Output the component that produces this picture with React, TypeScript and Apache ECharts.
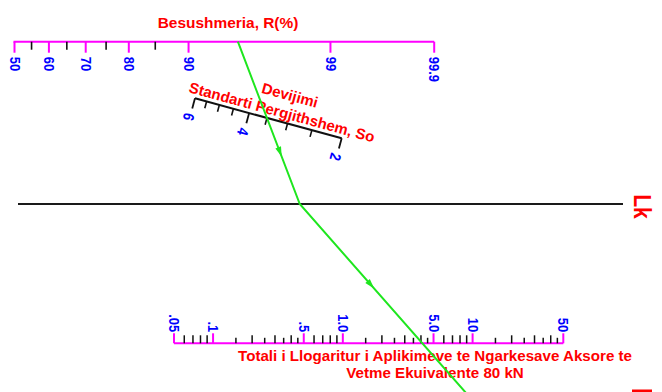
import React, { useEffect, useRef } from 'react';
import * as echarts from 'echarts';

// ---- Data ----
const rMajor = [50, 60, 70, 80, 90, 99, 99.9];
const rMajorLabels = ['50', '60', '70', '80', '90', '99', '99.9'];
const rMinor = [55, 65, 75, 85];

const soMajor = [6, 4, 2];
const soMajorLabels = ['6', '4', '2'];
const soMinor = [5.5, 5, 4.5, 3.5, 3, 2.5];

const esalMajor = [0.05, 0.1, 0.5, 1, 5, 10, 50];
const esalMajorLabels = ['.05', '.1', '.5', '1.0', '5.0', '10', '50'];
const esalMinor = [0.06, 0.07, 0.08, 0.09, 0.2, 0.3, 0.4, 0.6, 0.7, 0.8, 0.9, 2, 3, 4, 6, 7, 8, 9, 20, 30, 40];
const esalHalf = [0.15, 0.25, 0.35, 0.45, 1.5, 2.5, 3.5, 4.5, 15, 25, 35, 45];

const solR = 95;
const solSo = 3.5;
const solEsal = 4.1;

// ---- Styles / layout ----
const MAGENTA = '#ff00ff';
const BLUE = '#0000ff';
const RED = '#ff0000';
const GREEN = '#1ee61e';
const BLACK = '#111111';
const FONT = '"Liberation Sans", Arial, sans-serif';

const R_LEFT = 14.5;
const R_WIDTH = 419.7;
const R_Y = 41.7;
const E_LEFT = 174;
const E_WIDTH = 389.3;
const E_Y = 343.3;
const SO_X0 = 195;
const SO_Y0 = 98.3;
const SO_LEN = 152;
const SO_ANGLE = 15.25 * Math.PI / 180;
const TL_Y = 204;
const LABEL_STRETCH = 1.18;

function probit(p: number): number {
  const a = [-3.969683028665376e1, 2.209460984245205e2, -2.759285104469687e2, 1.38357751867269e2, -3.066479806614716e1, 2.506628277459239];
  const b = [-5.447609879822406e1, 1.615858368580409e2, -1.556989798598866e2, 6.680131188771972e1, -1.328068155288572e1];
  const c = [-7.784894002430293e-3, -3.223964580411365e-1, -2.400758277161838, -2.549732539343734, 4.374664141464968, 2.938163982698783];
  const d = [7.784695709041462e-3, 3.224671290700398e-1, 2.445134137142996, 3.754408661907416];
  const pl = 0.02425;
  if (p < pl) {
    const q = Math.sqrt(-2 * Math.log(p));
    return (((((c[0] * q + c[1]) * q + c[2]) * q + c[3]) * q + c[4]) * q + c[5]) / ((((d[0] * q + d[1]) * q + d[2]) * q + d[3]) * q + 1);
  }
  if (p <= 1 - pl) {
    const q = p - 0.5;
    const r = q * q;
    return ((((((a[0] * r + a[1]) * r + a[2]) * r + a[3]) * r + a[4]) * r + a[5]) * q) / (((((b[0] * r + b[1]) * r + b[2]) * r + b[3]) * r + b[4]) * r + 1);
  }
  const q = Math.sqrt(-2 * Math.log(1 - p));
  return -(((((c[0] * q + c[1]) * q + c[2]) * q + c[3]) * q + c[4]) * q + c[5]) / ((((d[0] * q + d[1]) * q + d[2]) * q + d[3]) * q + 1);
}
const z = (r: number) => probit(r / 100);

const labelFont = `bold 13px ${FONT}`;
const titleFont = `bold 15px ${FONT}`;

export default function App() {
  const ref = useRef<HTMLDivElement>(null);
  useEffect(() => {
    if (!ref.current) return;
    const chart = echarts.init(ref.current, undefined, { renderer: 'svg' });
    const zMax = z(rMajor[rMajor.length - 1]);

    const baseGraphic: any[] = [
      { id: 'tl', type: 'line', z: 5, shape: { x1: 18, y1: TL_Y, x2: 623, y2: TL_Y }, style: { stroke: '#1a1a1a', lineWidth: 2 } },
      { id: 't1', type: 'text', z: 5, x: 228, y: 22.5, scaleX: 1.03, style: { text: 'Besushmeria, R(%)', fill: RED, font: titleFont, align: 'center', verticalAlign: 'middle' } },
      { id: 't2', type: 'text', z: 5, x: 290, y: 95, rotation: -SO_ANGLE, style: { text: 'Devijimi', fill: RED, font: titleFont, align: 'center', verticalAlign: 'middle' } },
      { id: 't3', type: 'text', z: 5, x: 282, y: 112, rotation: -SO_ANGLE, style: { text: 'Standarti Pergjithshem, So', fill: RED, font: titleFont, align: 'center', verticalAlign: 'middle' } },
      { id: 't4', type: 'text', z: 5, x: 435, y: 356, scaleX: 1.01, style: { text: 'Totali i Llogaritur i Aplikimeve te Ngarkesave Aksore te', fill: RED, font: titleFont, align: 'center', verticalAlign: 'middle' } },
      { id: 't5', type: 'text', z: 5, x: 435, y: 373, scaleX: 1.01, style: { text: 'Vetme Ekuivalente 80 kN', fill: RED, font: titleFont, align: 'center', verticalAlign: 'middle' } },
      { id: 't6', type: 'text', z: 5, x: 642.5, y: 206.5, rotation: -Math.PI / 2, scaleY: 1.15, style: { text: 'Lk', fill: RED, font: `bold 21px ${FONT}`, align: 'center', verticalAlign: 'middle' } },
      { id: 'frag', type: 'rect', z: 5, shape: { x: 632, y: 389.5, width: 20, height: 3 }, style: { fill: RED } },
    ];

    const option: any = {
      animation: false,
      backgroundColor: '#ffffff',
      grid: [
        { left: R_LEFT, top: R_Y, width: R_WIDTH, height: 20, show: false },
        { left: E_LEFT, top: E_Y - 20, width: E_WIDTH, height: 20, show: false },
        { left: 0, top: 0, width: SO_LEN, height: 10, show: false },
      ],
      xAxis: [
        { gridIndex: 0, type: 'value', min: z(rMajor[0]), max: zMax, show: false },
        { gridIndex: 1, type: 'log', logBase: 10, min: esalMajor[0], max: esalMajor[esalMajor.length - 1], show: false },
        { gridIndex: 2, type: 'log', logBase: 10, min: soMajor[soMajor.length - 1], max: soMajor[0], inverse: true, show: false },
      ],
      yAxis: [
        { gridIndex: 0, type: 'value', min: 0, max: 1, show: false },
        { gridIndex: 1, type: 'value', min: 0, max: 1, show: false },
        { gridIndex: 2, type: 'value', min: 0, max: 1, show: false },
      ],
      series: [
        {
          type: 'custom', xAxisIndex: 0, yAxisIndex: 0, clip: false, z: 3,
          data: [[z(rMajor[0]), 0, zMax]],
          renderItem: (_p: any, api: any) => {
            const a = api.coord([api.value(0), 1]);
            const b = api.coord([api.value(2), 1]);
            return { type: 'line', shape: { x1: a[0] - 1, y1: a[1], x2: b[0], y2: b[1] }, style: { stroke: MAGENTA, lineWidth: 2 } };
          },
        },
        {
          type: 'custom', xAxisIndex: 0, yAxisIndex: 0, clip: false, z: 3,
          data: rMajor.map((r, i) => [z(r), 1, i]),
          renderItem: (_p: any, api: any) => {
            const p = api.coord([api.value(0), 1]);
            const i = api.value(2);
            return {
              type: 'group',
              children: [
                { type: 'line', shape: { x1: p[0], y1: p[1], x2: p[0], y2: p[1] + 11 }, style: { stroke: MAGENTA, lineWidth: 2 } },
                { type: 'text', x: p[0] + 0.5, y: p[1] + 15, rotation: -Math.PI / 2, scaleY: LABEL_STRETCH, style: { text: rMajorLabels[i], fill: BLUE, font: labelFont, align: 'left', verticalAlign: 'middle' } },
              ],
            };
          },
        },
        {
          type: 'custom', xAxisIndex: 0, yAxisIndex: 0, clip: false, z: 3,
          data: rMinor.map((r) => [z(r), 1]),
          renderItem: (_p: any, api: any) => {
            const p = api.coord([api.value(0), 1]);
            return { type: 'line', shape: { x1: p[0], y1: p[1], x2: p[0], y2: p[1] + 8 }, style: { stroke: BLACK, lineWidth: 1.6 } };
          },
        },
        {
          type: 'custom', xAxisIndex: 1, yAxisIndex: 1, clip: false, z: 3,
          data: [[esalMajor[0], 0, esalMajor[esalMajor.length - 1]]],
          renderItem: (_p: any, api: any) => {
            const a = api.coord([api.value(0), 0]);
            const b = api.coord([api.value(2), 0]);
            return { type: 'line', shape: { x1: a[0], y1: a[1], x2: b[0], y2: b[1] }, style: { stroke: MAGENTA, lineWidth: 2 } };
          },
        },
        {
          type: 'custom', xAxisIndex: 1, yAxisIndex: 1, clip: false, z: 3,
          data: esalMajor.map((v, i) => [v, 0, i]),
          renderItem: (_p: any, api: any) => {
            const p = api.coord([api.value(0), 0]);
            const i = api.value(2);
            return {
              type: 'group',
              children: [
                { type: 'line', shape: { x1: p[0], y1: p[1], x2: p[0], y2: p[1] - 10 }, style: { stroke: MAGENTA, lineWidth: 2 } },
                { type: 'text', x: p[0] + 0.5, y: p[1] - 11, rotation: -Math.PI / 2, scaleY: LABEL_STRETCH, style: { text: esalMajorLabels[i], fill: BLUE, font: labelFont, align: 'right', verticalAlign: 'middle' } },
              ],
            };
          },
        },
        {
          type: 'custom', xAxisIndex: 1, yAxisIndex: 1, clip: false, z: 3,
          data: esalMinor.map((v) => [v, 0]),
          renderItem: (_p: any, api: any) => {
            const p = api.coord([api.value(0), 0]);
            return { type: 'line', shape: { x1: p[0], y1: p[1], x2: p[0], y2: p[1] - 8 }, style: { stroke: BLACK, lineWidth: 1.5 } };
          },
        },
        {
          type: 'custom', xAxisIndex: 1, yAxisIndex: 1, clip: false, z: 3,
          data: esalHalf.map((v) => [v, 0]),
          renderItem: (_p: any, api: any) => {
            const p = api.coord([api.value(0), 0]);
            return { type: 'line', shape: { x1: p[0], y1: p[1], x2: p[0], y2: p[1] - 5.5 }, style: { stroke: BLACK, lineWidth: 1.5 } };
          },
        },
        {
          type: 'custom', xAxisIndex: 2, yAxisIndex: 2, clip: false, z: 3,
          data: [[soMajor[0], 0, soMajor[soMajor.length - 1]]],
          renderItem: (_p: any, api: any) => {
            const a = api.coord([api.value(0), 1])[0];
            const b = api.coord([api.value(2), 1])[0];
            return {
              type: 'group', x: SO_X0, y: SO_Y0, rotation: -SO_ANGLE,
              children: [{ type: 'line', shape: { x1: a, y1: 0, x2: b, y2: 0 }, style: { stroke: BLACK, lineWidth: 2 } }],
            };
          },
        },
        {
          type: 'custom', xAxisIndex: 2, yAxisIndex: 2, clip: false, z: 3,
          data: soMajor.map((v, i) => [v, 1, i]),
          renderItem: (_p: any, api: any) => {
            const x = api.coord([api.value(0), 1])[0];
            const i = api.value(2);
            return {
              type: 'group', x: SO_X0, y: SO_Y0, rotation: -SO_ANGLE,
              children: [
                { type: 'line', shape: { x1: x, y1: 0, x2: x, y2: 10.5 }, style: { stroke: BLACK, lineWidth: 1.8 } },
                { type: 'text', x: x - 1, y: 16, rotation: -Math.PI / 2, scaleY: LABEL_STRETCH, style: { text: soMajorLabels[i], fill: BLUE, font: labelFont, align: 'left', verticalAlign: 'middle' } },
              ],
            };
          },
        },
        {
          type: 'custom', xAxisIndex: 2, yAxisIndex: 2, clip: false, z: 3,
          data: soMinor.map((v) => [v, 1]),
          renderItem: (_p: any, api: any) => {
            const x = api.coord([api.value(0), 1])[0];
            return {
              type: 'group', x: SO_X0, y: SO_Y0, rotation: -SO_ANGLE,
              children: [{ type: 'line', shape: { x1: x, y1: 0, x2: x, y2: 7 }, style: { stroke: BLACK, lineWidth: 1.6 } }],
            };
          },
        },
      ],
      graphic: baseGraphic,
    };
    chart.setOption(option);

    // Solution line through the scales
    const pR = chart.convertToPixel({ gridIndex: 0 } as any, [z(solR), 1]) as number[];
    const soLocal = (chart.convertToPixel({ gridIndex: 2 } as any, [solSo, 1]) as number[])[0];
    const pSo = [SO_X0 + soLocal * Math.cos(SO_ANGLE), SO_Y0 + soLocal * Math.sin(SO_ANGLE)];
    const pE = chart.convertToPixel({ gridIndex: 1 } as any, [solEsal, 0]) as number[];
    const k1 = (pSo[0] - pR[0]) / (pSo[1] - pR[1]);
    const pTL = [pR[0] + k1 * (TL_Y - pR[1]), TL_Y];
    const k2 = (pE[0] - pTL[0]) / (pE[1] - pTL[1]);
    const endY = 405;
    const pEnd = [pTL[0] + k2 * (endY - TL_Y), endY];

    const arrow = (id: string, a: number[], b: number[], f: number) => {
      const cx = a[0] + (b[0] - a[0]) * f;
      const cy = a[1] + (b[1] - a[1]) * f;
      const len = Math.hypot(b[0] - a[0], b[1] - a[1]);
      const ux = (b[0] - a[0]) / len;
      const uy = (b[1] - a[1]) / len;
      const px = -uy;
      const py = ux;
      return {
        id, type: 'polygon', z: 20,
        shape: { points: [[cx + ux * 5, cy + uy * 5], [cx - ux * 5 + px * 3, cy - uy * 5 + py * 3], [cx - ux * 5 - px * 3, cy - uy * 5 - py * 3]] },
        style: { fill: GREEN },
      };
    };

    chart.setOption({
      graphic: baseGraphic.concat([
        { id: 'green', type: 'polyline', z: 20, shape: { points: [pR, pTL, pEnd] }, style: { stroke: GREEN, lineWidth: 2, fill: 'none' } },
        arrow('a1', pR, pTL, 0.68),
        arrow('a2', pTL, pE, 0.58),
      ]),
    }, { replaceMerge: ['graphic'] } as any);

    return () => chart.dispose();
  }, []);
  return <div ref={ref} style={{ position: 'fixed', left: 0, top: 0, width: 662, height: 392, background: '#fff' }} />;
}
